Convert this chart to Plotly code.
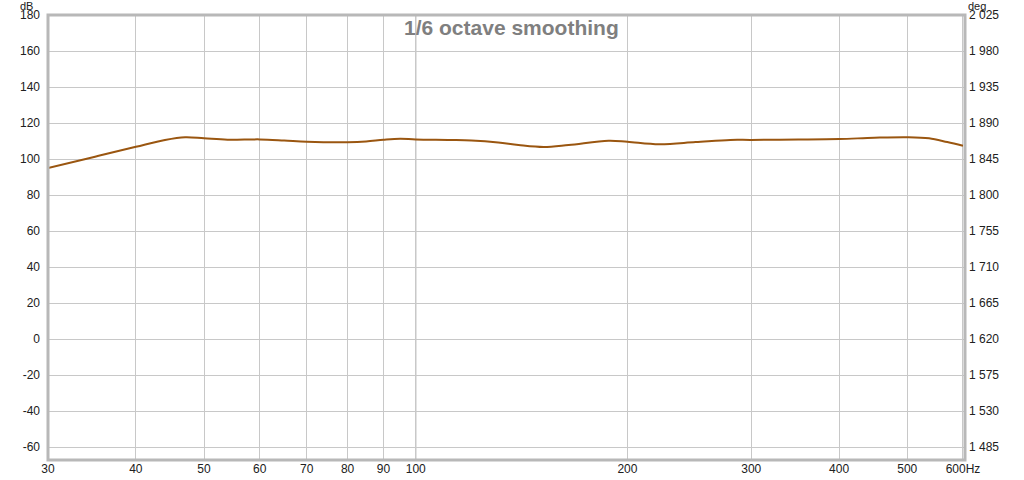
import math
import plotly.graph_objects as go

freq_hz = [30, 35, 40, 44, 47, 50, 54, 60, 65, 70, 80, 85, 90, 95, 100, 112, 120, 131,
           140, 152, 165, 188, 200, 222, 250, 280, 300, 350, 400, 449, 500, 537, 570, 600]
spl_db = [95.0, 101.3, 106.8, 110.6, 112.1, 111.5, 110.7, 110.9, 110.3, 109.6, 109.3,
          109.7, 110.7, 111.3, 110.9, 110.6, 110.3, 109.2, 107.8, 106.7, 107.8, 110.2,
          109.6, 108.2, 109.4, 110.6, 110.6, 110.8, 111.1, 111.8, 112.1, 111.5, 109.4, 107.4]

x_ticks = [30, 40, 50, 60, 70, 80, 90, 100, 200, 300, 400, 500, 600]
x_tick_text = ["30", "40", "50", "60", "70", "80", "90", "100", "200", "300", "400", "500", "600Hz"]
db_ticks = list(range(-60, 181, 20))
db_tick_text = [str(v) for v in db_ticks]
deg_ticks = list(range(1485, 2026, 45))
deg_tick_text = [f"{v // 1000} {v % 1000:03d}" for v in deg_ticks]

db_range = [-67.2, 180]
deg_range = [1620 + 2.25 * db_range[0], 1620 + 2.25 * db_range[1]]
x_range = [30, 604]

font = dict(family="Liberation Sans, Arial, sans-serif", size=12, color="#202020")
small_font = dict(family="Liberation Sans, Arial, sans-serif", size=11, color="#202020")

fig = go.Figure()
fig.add_trace(go.Scatter(
    x=freq_hz, y=spl_db, mode="lines",
    line=dict(color="#9A5610", width=2, shape="spline", smoothing=1.0),
    hoverinfo="skip", showlegend=False,
))
fig.add_trace(go.Scatter(x=[x_range[0]], y=[deg_range[0]], yaxis="y2", mode="markers",
                         marker=dict(opacity=0), showlegend=False, hoverinfo="skip"))

PW, PH = 917, 445
fig.update_layout(
    width=1024, height=480,
    margin=dict(l=48, r=59, t=15, b=20, autoexpand=False),
    paper_bgcolor="white", plot_bgcolor="white",
    font=font,
    xaxis=dict(type="log", range=[math.log10(x_range[0]), math.log10(x_range[1])],
               tickvals=x_ticks, ticktext=x_tick_text, automargin=False,
               showgrid=True, gridcolor="#c8c8c8", gridwidth=1,
               zeroline=False, showline=False, ticks="", tickfont=font),
    yaxis=dict(range=db_range, tickvals=db_ticks, ticktext=db_tick_text, automargin=False,
               showgrid=True, gridcolor="#c8c8c8",
               gridwidth=1, zeroline=False, showline=False, ticks="", tickfont=font,
               ticklabelstandoff=7),
    yaxis2=dict(range=deg_range, tickvals=deg_ticks, ticktext=deg_tick_text, automargin=False,
                overlaying="y", side="right", showgrid=False, zeroline=False,
                showline=False, ticks="", tickfont=font, ticklabelstandoff=3),
    shapes=[
        dict(type="line", xref="x", yref="paper", x0=100, x1=100, y0=0, y1=1,
             line=dict(color="#808080", width=1), layer="below"),
        dict(type="rect", xref="paper", yref="paper", x0=0, x1=1, y0=0, y1=1,
             line=dict(color="#b8b8b8", width=3), layer="above"),
    ],
    annotations=[
        dict(text="1/6 octave smoothing", xref="paper", yref="paper",
             x=(511 - 48) / PW, y=(460 - 27) / PH, xanchor="center", yanchor="middle",
             showarrow=False,
             font=dict(family="Liberation Sans, Arial, sans-serif", size=21, color="#7f7f7f",
                       weight="bold")),
        dict(text="dB", xref="paper", yref="paper", x=-14 / PW, y=1 + 16 / PH,
             xanchor="right", yanchor="top", showarrow=False, font=small_font,
             borderpad=0),
        dict(text="deg", xref="paper", yref="paper", x=1 + 2 / PW, y=1 + 16 / PH,
             xanchor="left", yanchor="top", showarrow=False, font=small_font,
             borderpad=0),
    ],
)

fig.write_html("out.html", config={"displayModeBar": False},
               post_script="document.body.style.margin='0';")
